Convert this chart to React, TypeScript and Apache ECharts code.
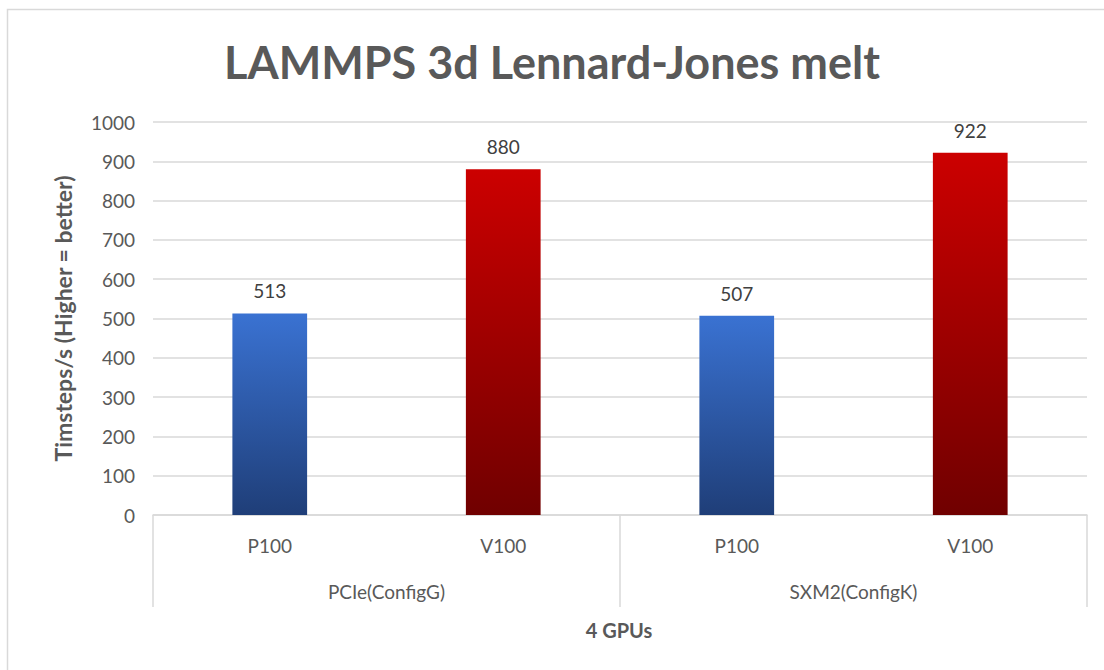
import React, { useEffect, useRef } from "react";
import * as echarts from "echarts";

const TITLE = "LAMMPS 3d Lennard-Jones melt";
const categories = ["P100", "V100", "P100", "V100"];
const groups = ["PCIe(ConfigG)", "SXM2(ConfigK)"];
const values = [513, 880, 507, 922];
const gpuKinds = ["P100", "V100", "P100", "V100"];
const yTicks = { min: 0, max: 1000, interval: 100 };
const yName = "Timsteps/s (Higher = better)";
const xName = "4 GPUs";

const FONT = "Lato, 'Open Sans', sans-serif";

const blueGrad = () =>
  new echarts.graphic.LinearGradient(0, 0, 0, 1, [
    { offset: 0, color: "#3A72D2" },
    { offset: 1, color: "#1F3E78" },
  ]);
const redGrad = () =>
  new echarts.graphic.LinearGradient(0, 0, 0, 1, [
    { offset: 0, color: "#CC0000" },
    { offset: 1, color: "#700000" },
  ]);

export default function App() {
  const ref = useRef<HTMLDivElement>(null);
  useEffect(() => {
    document.body.style.margin = "0";
    if (!ref.current) return;
    const chart = echarts.init(ref.current, undefined, { renderer: "svg" });
    const option: any = {
      animation: false,
      backgroundColor: "#ffffff",
      title: {
        text: TITLE,
        left: "center",
        top: 34,
        textStyle: {
          fontFamily: FONT,
          fontWeight: "bold",
          fontSize: 45,
          color: "#595959",
        },
      },
      graphic: [
        {
          type: "rect",
          shape: { x: 7.5, y: 9.5, width: 1200, height: 800 },
          style: { fill: "none", stroke: "#D9D9D9", lineWidth: 1.5 },
          silent: true,
        },
        {
          type: "text",
          x: 619,
          y: 630,
          style: {
            text: xName,
            align: "center",
            verticalAlign: "middle",
            fontFamily: FONT,
            fontWeight: "bold",
            fontSize: 20,
            fill: "#595959",
          },
        },
      ],
      grid: { left: 153, right: 17, top: 122, bottom: 155 },
      xAxis: [
        {
          type: "category",
          data: categories,
          position: "bottom",
          axisLine: { show: true, lineStyle: { color: "#D9D9D9", width: 1.5 } },
          axisTick: { show: false },
          axisLabel: {
            margin: 21,
            fontFamily: FONT,
            fontSize: 19,
            color: "#595959",
          },
        },
        {
          type: "category",
          data: groups,
          position: "bottom",
          axisLine: { show: false },
          axisTick: {
            show: true,
            length: 92,
            lineStyle: { color: "#D9D9D9", width: 1.5 },
          },
          axisLabel: {
            margin: 67,
            fontFamily: FONT,
            fontSize: 19,
            color: "#595959",
          },
        },
      ],
      yAxis: {
        type: "value",
        min: yTicks.min,
        max: yTicks.max,
        interval: yTicks.interval,
        name: yName,
        nameLocation: "middle",
        nameGap: 79,
        nameTextStyle: {
          fontFamily: FONT,
          fontWeight: "bold",
          fontSize: 23,
          color: "#595959",
        },
        axisLine: { show: false },
        axisTick: { show: false },
        axisLabel: {
          margin: 18,
          formatter: (v: number) => String(v),
          fontFamily: FONT,
          fontSize: 19,
          color: "#595959",
        },
        splitLine: { lineStyle: { color: "#D9D9D9", width: 1.5 } },
      },
      series: [
        {
          type: "bar",
          xAxisIndex: 0,
          barWidth: "32%",
          data: values.map((v, i) => ({
            value: v,
            itemStyle: { color: gpuKinds[i] === "P100" ? blueGrad() : redGrad() },
          })),
          label: {
            show: true,
            position: "top",
            distance: 13,
            fontFamily: FONT,
            fontSize: 19,
            color: "#404040",
          },
        },
      ],
    };
    chart.setOption(option);
    return () => chart.dispose();
  }, []);
  return <div ref={ref} style={{ width: 1104, height: 670 }} />;
}
